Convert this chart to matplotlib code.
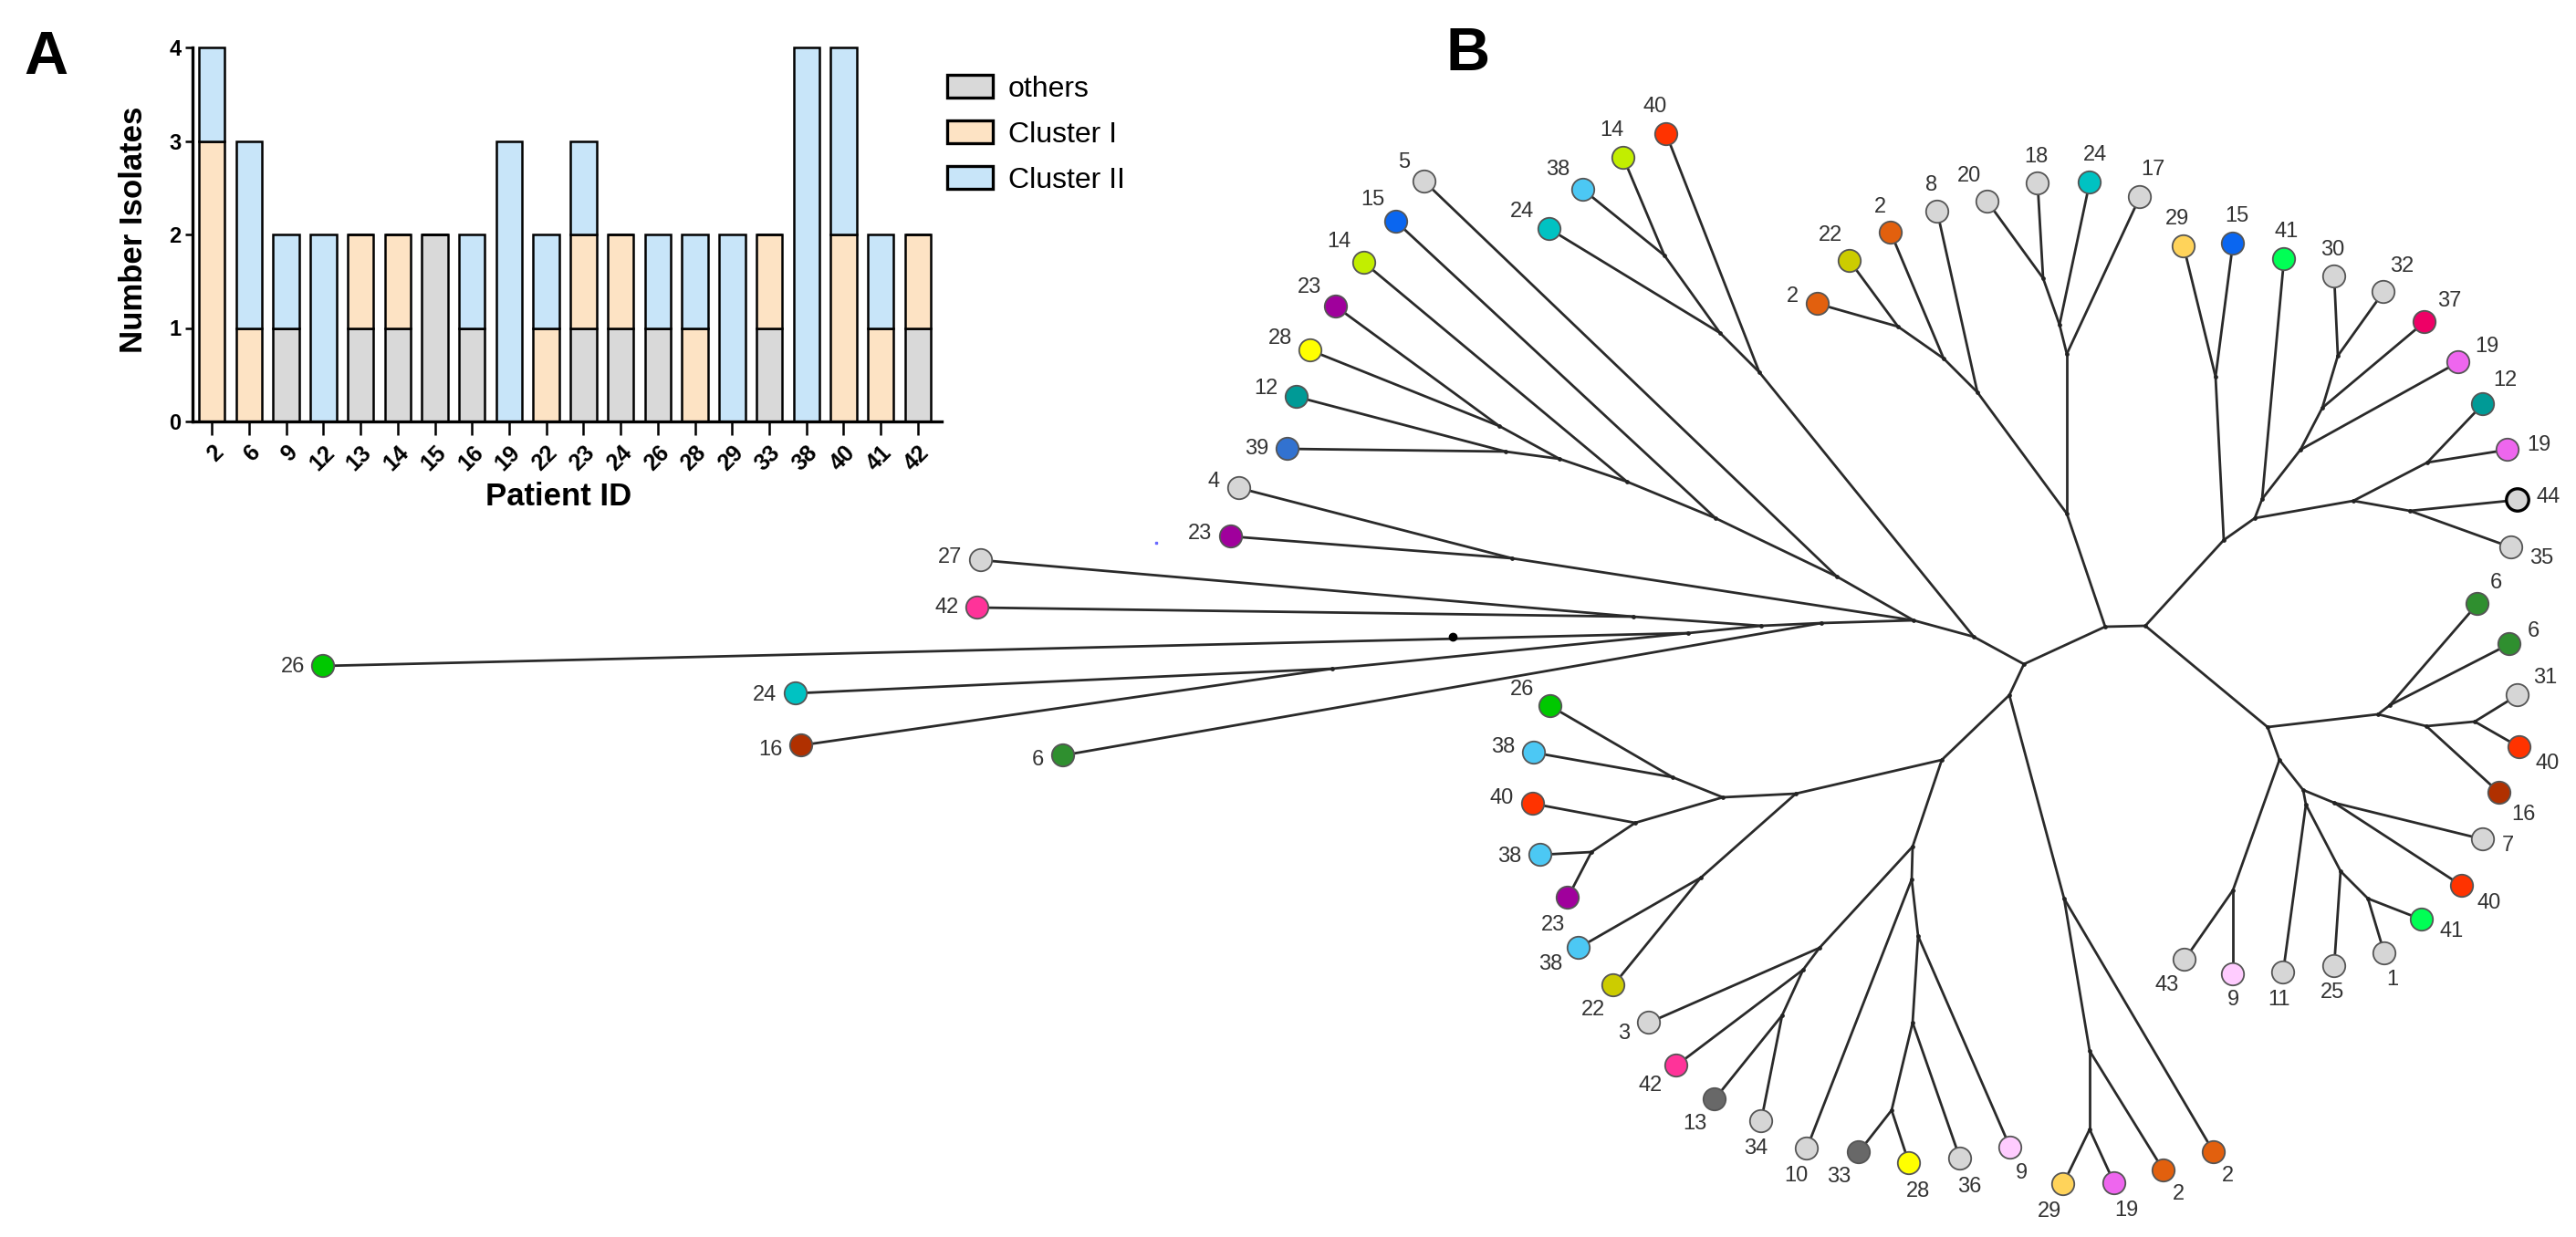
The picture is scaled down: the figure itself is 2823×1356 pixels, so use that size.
import numpy as np
import matplotlib
matplotlib.use("Agg")
import matplotlib.pyplot as plt
from matplotlib.patches import Patch
from matplotlib.collections import LineCollection
from matplotlib import font_manager

# ---------------- Panel A data ----------------
patient_ids = ['2', '6', '9', '12', '13', '14', '15', '16', '19', '22', '23', '24',
               '26', '28', '29', '33', '38', '40', '41', '42']
n_others = [0, 0, 1, 0, 1, 1, 2, 1, 0, 0, 1, 1, 1, 0, 0, 1, 0, 0, 0, 1]
n_cluster1 = [3, 1, 0, 0, 1, 1, 0, 0, 0, 1, 1, 1, 0, 1, 0, 1, 0, 2, 1, 1]
n_cluster2 = [1, 2, 1, 2, 0, 0, 0, 1, 3, 1, 1, 0, 1, 1, 2, 0, 4, 2, 1, 0]
series_names = ['others', 'Cluster I', 'Cluster II']
y_ticks = [0, 1, 2, 3, 4]

# ---------------- Panel B data (tree) ----------------
node_names = ['C1', 'Na', 'Q', 'P', 'UL1', 'UL2', 'UL3', 'UL4', 'UL5', 'N4', 'L1', 'L4',
              'L2', 'L3', 'J', 'T3', 'T2', 'T1', 'C2', 'V', 'Wa', 'Wb', 'Wc', 'Xa', 'Xb',
              'Xc', 'C3', 'Ya', 'Yb', 'Yc', 'Yd', 'Ye', 'Yf', 'Yg', 'Yh', 'Yi', 'Yj',
              'R0', 'R1', 'R2', 'R3', 'R4', 'R5', 'R6', 'R7', 'R8', 'R9', 'R10', 'R11',
              'D1', 'D2', 'E1', 'E2', 'E4', 'E5', 'E6', 'E3', 'F1', 'F2', 'F4', 'F5',
              'F3', 'F6', 'F7', 'F8', 'G1', 'G2', 'G3']
node_x = [2218, 2163, 2097, 2013, 1880, 1783, 1709, 1643, 1650, 1657, 1996, 1930,
          1790, 1850, 1460, 1928, 1885, 1824, 2307, 2265, 2167, 2130, 2080, 2265, 2257,
          2239, 2351, 2437, 2428, 2471, 2479, 2521, 2545, 2562, 2579, 2660, 2641,
          2485, 2606, 2619, 2659, 2712, 2498, 2524, 2558, 2527, 2565, 2595, 2447,
          2202, 2128, 1968, 1888, 1833, 1792, 1744, 1864, 2096, 1994, 1976, 1953,
          2095, 2102, 2096, 2073, 2262, 2290, 2290]
node_y = [728, 698, 680, 632, 568, 528, 503, 467, 495, 612, 683, 686,
          676, 694, 733, 408, 365, 280, 687, 563, 430, 393, 358, 388, 356,
          305, 686, 592, 413, 568, 547, 493, 447, 390, 549, 507, 560,
          797, 783, 773, 796, 791, 833, 866, 880, 882, 955, 985, 976,
          762, 833, 870, 874, 852, 902, 934, 962, 928, 1039, 1063, 1113,
          964, 1026, 1121, 1217, 985, 1152, 1238]
node_parent = [None, 'C1', 'Na', 'Q', 'P', 'UL1', 'UL2', 'UL3', 'UL3', 'Q', 'Q', 'L1',
               'L4', 'L4', 'L3', 'Na', 'T3', 'T2', 'C1', 'C2', 'V', 'Wa', 'Wb', 'V', 'Xa',
               'Xb', 'C2', 'C3', 'Ya', 'Ya', 'Yc', 'Yd', 'Ye', 'Yf', 'Yc', 'Yh', 'Yh',
               'C3', 'R0', 'R1', 'R1', 'R3', 'R0', 'R5', 'R6', 'R6', 'R8', 'R9', 'R5',
               'C1', 'D1', 'D2', 'E1', 'E2', 'E2', 'E5', 'E1', 'D2', 'F1', 'F2', 'F4',
               'F1', 'F3', 'F6', 'F7', 'D1', 'G1', 'G2']

leaf_labels = ['5', '15', '14', '23', '28', '12', '39', '4', '23', '27', '42', '26',
               '24', '16', '6', '24', '38', '14', '40', '2', '22', '2', '8', '20',
               '18', '24', '17', '29', '15', '41', '30', '32', '37', '19', '12', '19',
               '44', '35', '6', '6', '31', '40', '16', '7', '40', '41', '1', '25',
               '11', '9', '43', '2', '2', '19', '29', '9', '36', '28', '33', '10',
               '34', '13', '42', '3', '22', '38', '23', '38', '40', '38', '26']
leaf_x = [1561, 1530, 1495, 1464, 1436, 1421, 1411, 1358, 1349, 1075, 1071, 354,
          872, 878, 1165, 1698, 1735, 1779, 1826, 1992, 2027, 2072, 2123, 2178,
          2233, 2290, 2345, 2393, 2447, 2503, 2558, 2612, 2657, 2694, 2721, 2748,
          2759, 2752, 2715, 2750, 2759, 2761, 2739, 2721, 2698, 2654, 2613, 2558,
          2502, 2447, 2394, 2426, 2371, 2317, 2261, 2203, 2148, 2092, 2037, 1980,
          1930, 1879, 1837, 1807, 1768, 1730, 1718, 1688, 1680, 1681, 1699]
leaf_y = [199, 243, 288, 336, 384, 435, 492, 535, 588, 614, 666, 730,
          760, 817, 828, 251, 208, 173, 147, 333, 286, 255, 232, 221,
          201, 200, 216, 270, 267, 284, 303, 320, 353, 397, 443, 493,
          548, 600, 662, 706, 762, 819, 869, 920, 971, 1008, 1045, 1059,
          1066, 1068, 1052, 1263, 1283, 1297, 1298, 1258, 1270, 1275, 1263, 1259,
          1229, 1205, 1168, 1121, 1080, 1039, 984, 937, 881, 825, 774]
leaf_parent = ['P', 'UL1', 'UL2', 'UL4', 'UL4', 'UL5', 'UL5', 'N4', 'N4', 'L2', 'L2', 'L3',
               'J', 'J', 'L1', 'T2', 'T1', 'T1', 'T3', 'Wc', 'Wc', 'Wb', 'Wa', 'Xc',
               'Xc', 'Xb', 'Xa', 'Yb', 'Yb', 'Yd', 'Yg', 'Yg', 'Yf', 'Ye', 'Yi', 'Yi',
               'Yj', 'Yj', 'R2', 'R2', 'R4', 'R4', 'R3', 'R7', 'R7', 'R10', 'R10', 'R9',
               'R8', 'R11', 'R11', 'G1', 'G2', 'G3', 'G3', 'F6', 'F7', 'F8', 'F8', 'F3',
               'F5', 'F5', 'F4', 'F2', 'E3', 'E3', 'E6', 'E6', 'E5', 'E4', 'E4']

# colour of each patient in the tree (grey when not listed)
patient_colour = {
    '2': '#e2600e', '22': '#cccc00', '40': '#ff3300', '14': '#c2ee00', '38': '#4cc8f4',
    '24': '#00c2c2', '15': '#0a66f0', '23': '#a0009c', '28': '#ffff00', '12': '#009a96',
    '39': '#3272d0', '42': '#ff3399', '26': '#00c800', '16': '#b03000', '6': '#2f8f2f',
    '29': '#ffd35a', '41': '#00ff55', '37': '#ee0066', '19': '#ee66ee', '9': '#ffccff',
    '13': '#686868', '33': '#686868',
}
grey_leaf = '#d6d6d6'

# ---------------- fonts ----------------
avail = {f.name for f in font_manager.fontManager.ttflist}
base_font = 'Liberation Sans' if 'Liberation Sans' in avail else 'DejaVu Sans'
narrow_font = 'Liberation Sans Narrow' if 'Liberation Sans Narrow' in avail else base_font
plt.rcParams['font.family'] = [base_font, 'DejaVu Sans']

W, H = 2823, 1356
fig = plt.figure(figsize=(W / 100, H / 100), dpi=100)
fig.patch.set_facecolor('white')

# ================= Panel B: tree =================
axt = fig.add_axes([0, 0, 1, 1])
axt.set_xlim(0, W)
axt.set_ylim(H, 0)
axt.axis('off')

pos = {n: (x, y) for n, x, y in zip(node_names, node_x, node_y)}
segs = []
for n, par in zip(node_names, node_parent):
    if par is not None:
        segs.append([pos[n], pos[par]])
for x, y, par in zip(leaf_x, leaf_y, leaf_parent):
    segs.append([(x, y), pos[par]])
axt.add_collection(LineCollection(segs, colors='#2a2a2a', linewidths=2.0, zorder=1,
                                  capstyle='round'))

# small dots at internal nodes
axt.plot(node_x, node_y, 'o', color='#222222', ms=2.4, zorder=2, ls='none')
# dot on the long branch and stray blue speck
axt.plot([1592], [698], 'o', color='black', ms=6, zorder=2)
axt.plot([1267], [595], 's', color='#6a6aff', ms=1.5, zorder=2)

leaf_cols = [patient_colour.get(lab, grey_leaf) for lab in leaf_labels]
edge_cols = ['black' if lab == '44' else '#555555' for lab in leaf_labels]
edge_lw = [2.4 if lab == '44' else 1.3 for lab in leaf_labels]
axt.scatter(leaf_x, leaf_y, s=310, c=leaf_cols, edgecolors=edge_cols,
            linewidths=edge_lw, zorder=3)

label_size = 17
em = label_size * 100 / 72.0
for lab, x, y, par in zip(leaf_labels, leaf_x, leaf_y, leaf_parent):
    px, py = pos[par]
    dx, dy = x - px, y - py
    d = np.hypot(dx, dy)
    ux, uy = dx / d, dy / d
    hw = 0.28 * em * len(lab)
    hh = 0.36 * em
    dist = 20 + abs(ux) * hw + abs(uy) * hh
    axt.text(x + ux * dist, y + uy * dist, lab, fontsize=label_size, color='#333333',
             ha='center', va='center', zorder=4)

fig.text(1609 / W, 1 - 60 / H, 'B', fontsize=48, fontweight='bold',
         ha='center', va='center')

# ================= Panel A: stacked bars =================
ax = fig.add_axes([211 / W, 1 - 462 / H, 821 / W, 410 / H])
xpos = np.arange(len(patient_ids))
colours = ['#d9d9d9', '#fde3c4', '#c8e5f9']
bottom = np.zeros(len(patient_ids))
for vals, col in zip([n_others, n_cluster1, n_cluster2], colours):
    vals = np.asarray(vals, dtype=float)
    ax.bar(xpos, vals, bottom=bottom, width=0.7, color=col, edgecolor='black',
           linewidth=1.8, clip_on=False, zorder=2)
    bottom += vals

ax.set_xlim(-0.52, 19.64)
ax.set_ylim(0, 4)
ax.set_yticks(y_ticks)
ax.set_yticklabels([str(v) for v in y_ticks], fontsize=17, fontweight='bold')
ax.set_xticks(xpos)
ax.set_xticklabels(patient_ids, fontsize=18, fontweight='bold', rotation=45,
                   ha='right', va='top', rotation_mode='anchor')
ax.tick_params(axis='x', length=11, width=1.8, direction='out', pad=5)
ax.tick_params(axis='y', length=6, width=1.8, direction='out', pad=3)
for s in ['top', 'right']:
    ax.spines[s].set_visible(False)
for s in ['left', 'bottom']:
    ax.spines[s].set_linewidth(2.4)
ax.set_facecolor('none')

fig.text(147 / W, 1 - 252 / H, 'Number Isolates', fontsize=25, fontweight='bold',
         rotation=90, ha='center', va='center')
fig.text(612 / W, 1 - 545 / H, 'Patient ID', fontsize=25, fontweight='bold',
         ha='center', va='center')
fig.text(50 / W, 1 - 64 / H, 'A', fontsize=48, fontweight='bold',
         ha='center', va='center')

handles = [Patch(facecolor=c, edgecolor='black', linewidth=2.4, label=n)
           for c, n in zip(colours, series_names)]
ax.legend(handles=handles, loc='upper left', bbox_to_anchor=(1038 / W, 1 - 82 / H),
          bbox_transform=fig.transFigure, frameon=False, handlelength=1.55,
          handleheight=0.85, handletextpad=0.55, labelspacing=0.6, borderpad=0,
          borderaxespad=0, prop={'family': narrow_font, 'size': 23})

fig.savefig('out.png', dpi=100, facecolor='white')
